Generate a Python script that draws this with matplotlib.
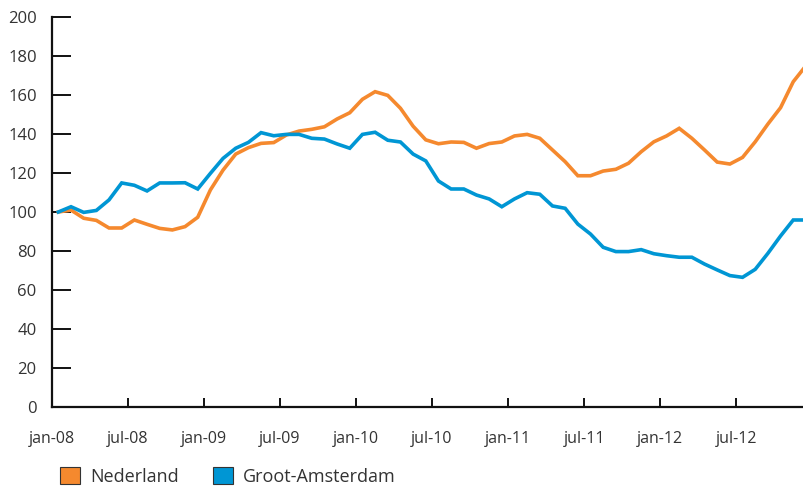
import numpy as np
import matplotlib
matplotlib.use("Agg")
import matplotlib.pyplot as plt
from matplotlib.patches import Patch

plt.rcParams['font.family'] = ['Open Sans', 'DejaVu Sans']

# maandelijkse index, jan-08 = 100
nederland = [100, 101, 96.8, 95.7, 91.8, 91.8, 95.9, 93.7, 91.6, 90.8,
             92.5, 97.3, 111.3, 121.5, 129.7, 133, 135.2, 135.6, 139.5, 141.5,
             142.4, 143.7, 147.7, 150.9, 157.8, 161.7, 159.8, 153.2, 144, 137,
             135, 135.9, 135.7, 132.7, 135.1, 135.9, 139, 139.8, 137.8, 131.8,
             125.8, 118.6, 118.6, 121, 121.9, 125, 130.9, 136, 139, 142.9,
             137.8, 131.8, 125.6, 124.6, 128, 136, 145.1, 153.5, 166.8, 175]
amsterdam = [100, 102.7, 99.8, 100.8, 106.2, 114.9, 113.7, 110.8, 114.9, 114.9,
             115, 111.8, 119.8, 127.5, 132.7, 135.7, 140.7, 139.1, 139.8, 139.8,
             137.8, 137.4, 134.9, 132.7, 139.8, 140.9, 136.8, 135.9, 129.7, 126.2,
             115.9, 111.8, 111.8, 108.7, 106.7, 102.7, 106.7, 109.9, 109.1, 103.1,
             101.9, 93.8, 88.7, 81.9, 79.7, 79.7, 80.7, 78.6, 77.6, 76.8,
             76.8, 73.3, 70.3, 67.4, 66.5, 70.6, 78.8, 87.7, 95.9, 95.9]
tick_labels = ['jan-08', 'jul-08', 'jan-09', 'jul-09', 'jan-10',
               'jul-10', 'jan-11', 'jul-11', 'jan-12', 'jul-12']

oranje = '#F5892E'
blauw = '#0096D4'

fig = plt.figure(figsize=(8.04, 4.87), dpi=100)
ax = fig.add_axes([52/804, 80/487, 1 - 52/804, 390/487])

x = np.arange(len(nederland))
ax.plot(x, nederland, color=oranje, lw=2.6, solid_joinstyle='miter')
ax.plot(x, amsterdam, color=blauw, lw=2.6, solid_joinstyle='miter')

ax.set_xlim(-0.5, 58.85)
ax.set_ylim(0, 200)
ax.set_yticks(range(0, 201, 20))
ax.set_xticks(np.arange(len(tick_labels)) * 6 - 0.5)
ax.set_xticklabels(tick_labels)

for s in ['top', 'right']:
    ax.spines[s].set_visible(False)
for s in ['left', 'bottom']:
    ax.spines[s].set_linewidth(1.6)
    ax.spines[s].set_color('#111111')

ax.tick_params(axis='y', direction='in', length=14, width=1.4, pad=11,
               labelsize=12, labelcolor='#333333', color='#111111')
ax.tick_params(axis='x', direction='in', length=6.5, width=1.4, pad=17,
               labelsize=11.5, labelcolor='#333333', color='#111111')
ax.yaxis.get_major_ticks()[-1].tick1line.set_color(blauw)

handles = [Patch(facecolor=oranje, edgecolor='#333333', lw=0.8, label='Nederland'),
           Patch(facecolor=blauw, edgecolor='#333333', lw=0.8, label='Groot-Amsterdam')]
fig.legend(handles=handles, loc='lower left', bbox_to_anchor=(60/804, 1/487),
           ncol=2, frameon=False, fontsize=13, handlelength=1.1, handleheight=1.05,
           handletextpad=0.55, columnspacing=1.9, labelcolor='#333333',
           borderpad=0, borderaxespad=0)

fig.savefig('out.png', dpi=100)
